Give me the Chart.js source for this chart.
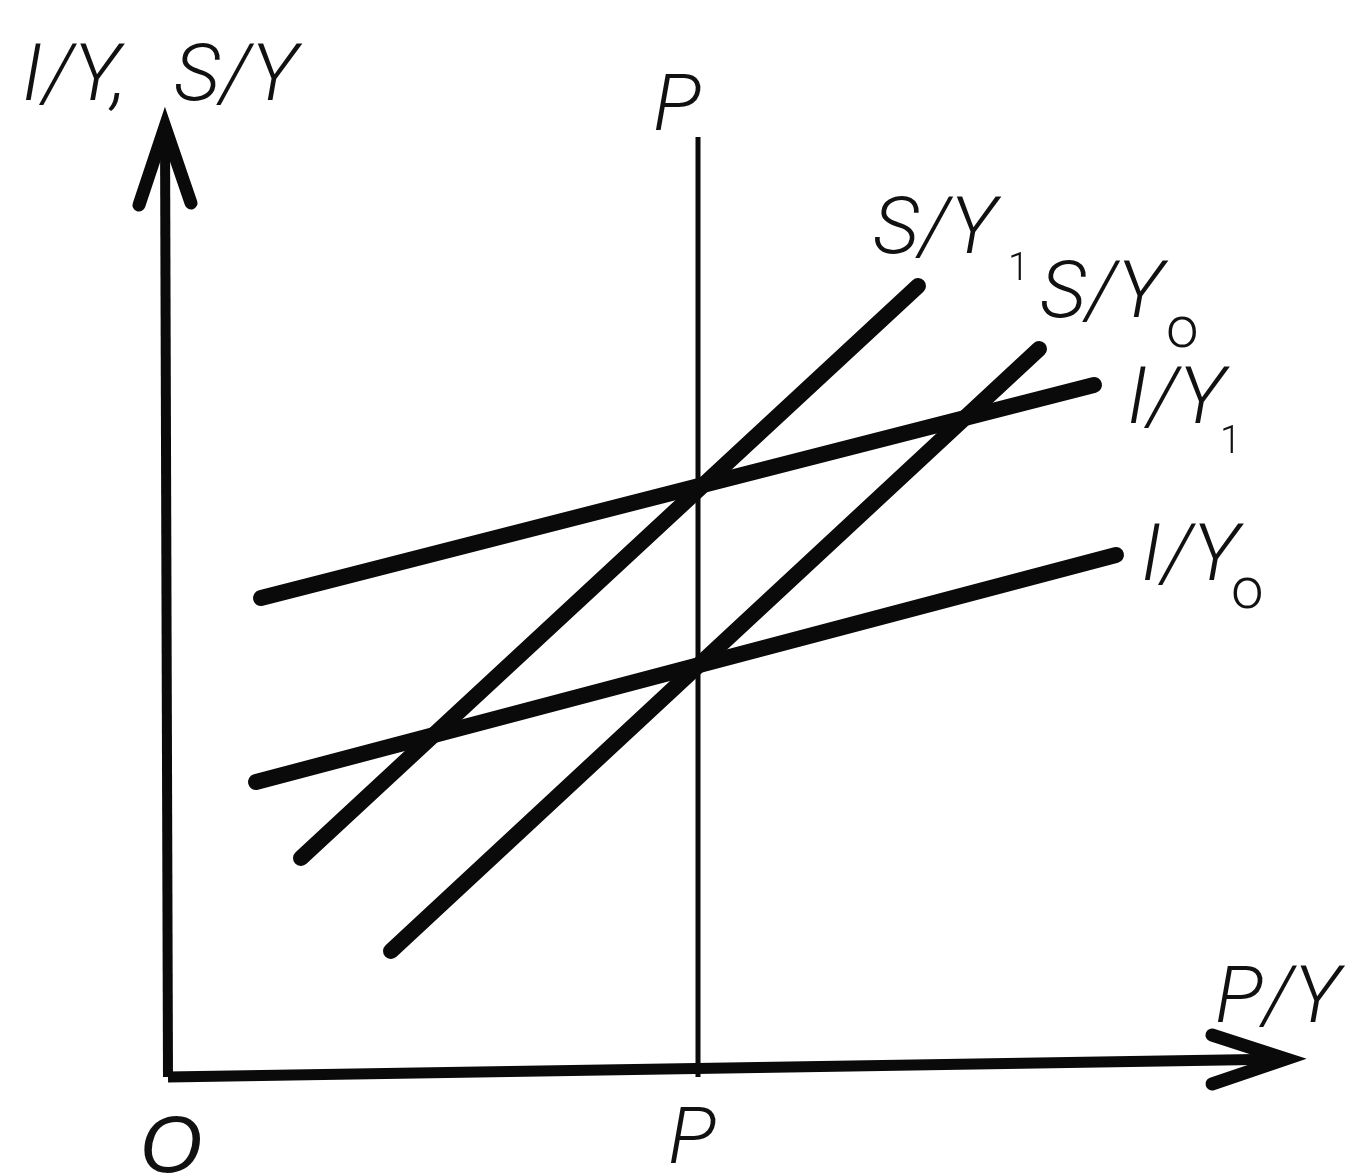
<!DOCTYPE html>
<html>
<head>
<meta charset="utf-8">
<script src="https://cdn.jsdelivr.net/npm/chart.js@4/dist/chart.umd.min.js"></script>
<style>
  html, body { margin: 0; padding: 0; background: #fff; }
  #wrap { width: 1351px; height: 1175px; }
</style>
</head>
<body>
<div id="wrap"><canvas id="c" width="1351" height="1175"></canvas></div>
<script>
// ---- Curves (x = P/Y, y = I/Y, S/Y), schematic units ----
const sy1X = [13.3, 75.0];
const sy1Y = [21.9, 79.1];
const sy0X = [22.3, 87.1];
const sy0Y = [12.6, 72.8];
const iy1X = [9.3, 92.6];
const iy1Y = [47.9, 69.2];
const iy0X = [8.8, 94.8];
const iy0Y = [29.5, 52.2];
// vertical line at P
const pLineX = [53.0, 53.0];
const pLineY = [0, 94.0];
// axes and arrowheads
const xAxisX = [0, 111.8];
const xAxisY = [0, 1.8];
const xArrowX = [104.4, 111.8, 104.4];
const xArrowY = [4.2, 1.8, -0.7];
const yAxisX = [0, -0.3];
const yAxisY = [0, 95.0];
const yArrowX = [-2.9, -0.3, 2.3];
const yArrowY = [87.2, 95.0, 87.4];

// ---- Text labels ----
const labelText = ["I/Y,", "S/Y", "P", "S/Y", "1", "S/Y", "o", "I/Y", "1", "I/Y", "o", "P/Y", "O", "P"];
const labelX =    [-14.6, 0.6, 48.5, 70.5, 84.0, 87.2, 99.8, 95.9, 105.2, 97.3, 106.3, 104.7, -2.8, 50.0];
const labelY =    [97.7, 97.7, 94.7, 82.4, 79.7, 76.0, 73.0, 65.4, 62.4, 49.7, 46.9, 5.5, -9.5, -8.6];
const labelKind = ["main","main","main","main","sub1","main","sub0","main","sub1","main","sub0","main","origin","main"];

function pts(xs, ys) { return xs.map((x, i) => ({ x: x, y: ys[i] })); }

function lineDs(xs, ys, w, cap) {
  return {
    data: pts(xs, ys),
    showLine: true,
    borderColor: '#0a0a0a',
    backgroundColor: '#0a0a0a',
    borderWidth: w,
    borderCapStyle: cap,
    borderJoinStyle: 'miter',
    pointRadius: 0,
    pointHoverRadius: 0,
    fill: false,
    tension: 0,
    clip: false
  };
}

const labelPlugin = {
  id: 'labels',
  afterDraw(chart) {
    const ctx = chart.ctx;
    const xs = chart.scales.x, ys = chart.scales.y;
    ctx.save();
    ctx.fillStyle = '#111';
    ctx.textAlign = 'left';
    ctx.textBaseline = 'alphabetic';
    labelText.forEach((t, i) => {
      const px = xs.getPixelForValue(labelX[i]);
      const py = ys.getPixelForValue(labelY[i]);
      const k = labelKind[i];
      if (k === 'main') ctx.font = 'italic 300 80px Roboto, "Liberation Sans"';
      else if (k === 'origin') ctx.font = 'italic 80px "Liberation Sans"';
      else if (k === 'sub1') ctx.font = '300 38px Roboto, "Liberation Sans"';
      else ctx.font = '300 58px Roboto, "Liberation Sans"';
      ctx.fillText(t, px, py);
    });
    ctx.restore();
  }
};

new Chart(document.getElementById('c'), {
  type: 'scatter',
  data: {
    datasets: [
      lineDs(xAxisX, xAxisY, 11, 'butt'),
      lineDs(xArrowX, xArrowY, 13, 'round'),
      lineDs(yAxisX, yAxisY, 10, 'butt'),
      lineDs(yArrowX, yArrowY, 13, 'round'),
      lineDs(pLineX, pLineY, 5, 'butt'),
      lineDs(sy1X, sy1Y, 16, 'round'),
      lineDs(sy0X, sy0Y, 16, 'round'),
      lineDs(iy1X, iy1Y, 16, 'round'),
      lineDs(iy0X, iy0Y, 16, 'round')
    ]
  },
  options: {
    responsive: false,
    animation: false,
    devicePixelRatio: 1,
    layout: { padding: { left: 118, right: 48, top: 112, bottom: 48 } },
    plugins: { legend: { display: false }, tooltip: { enabled: false } },
    scales: {
      x: { type: 'linear', min: -5, max: 113.5, display: false },
      y: { type: 'linear', min: -5, max: 96.5, display: false }
    }
  },
  plugins: [labelPlugin]
});
</script>
</body>
</html>
